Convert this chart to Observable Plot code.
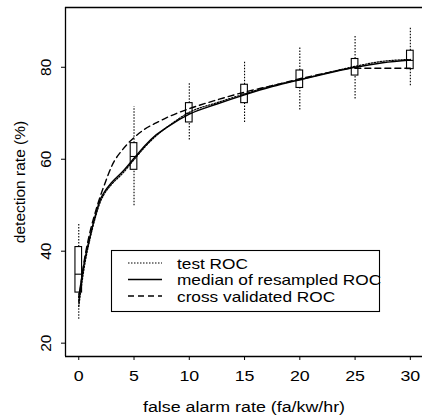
<!DOCTYPE html>
<html><head><meta charset="utf-8">
<script src="https://cdn.jsdelivr.net/npm/d3@7"></script>
<script src="https://cdn.jsdelivr.net/npm/@observablehq/plot@0.6"></script>
<style>html,body{margin:0;padding:0;background:#fff;overflow:hidden}</style>
</head><body><div id="chart"></div>
<script>
const fa        = [0, 0.5, 1, 1.5, 2, 2.3, 3, 4, 5, 6, 7, 8, 10, 12.5, 15, 17.5, 20, 22.5, 25, 27.5, 30];
const testROC   = [28, 36.5, 42.5, 47.3, 51, 52.4, 54.6, 57, 59.9, 62.7, 65.1, 67, 70.2, 72.3, 74.2, 76, 77.3, 78.8, 80.2, 81.3, 81.7];
const medianROC = [30, 37.5, 43, 47.8, 51.5, 52.8, 55, 57.4, 60.2, 63, 65.3, 67, 69.8, 72, 74, 75.8, 77.3, 78.7, 80, 81, 81.6];
const cvROC     = [29, 38, 44, 48.5, 52.3, 54.3, 58.6, 62.2, 64.7, 66.6, 67.9, 69.1, 71, 72.9, 74.6, 76, 77.5, 78.8, 79.8, 79.8, 79.8];

const boxFa     = [0, 5, 10, 15, 20, 25, 30];
const whiskerLo = [25.2, 49.9, 64.2, 68, 70.7, 73.1, 76];
const q1        = [31, 57.7, 68, 72.2, 75.5, 78.2, 79.6];
const med       = [35, 60.6, 70, 74.2, 77.3, 80, 81.5];
const q3        = [40.9, 63.5, 72.2, 76.2, 79.3, 81.8, 83.6];
const whiskerHi = [46, 71.4, 76.7, 81.3, 84.3, 86.9, 88.5];

const xTicks = [0, 5, 10, 15, 20, 25, 30];
const yTicks = [20, 40, 60, 80];
const xDomain = [-1.2, 31.1];
const yDomain = [17.1, 93];

const seriesNames = ["test ROC", "median of resampled ROC", "cross validated ROC"];
const seriesVals = [testROC, medianROC, cvROC];
const dashes = ["1.5,1.5", null, "6,4"];
const widths = [1.2, 1.5, 1.4];

const lines = seriesVals.map(v => fa.map((f, i) => ({fa: f, v: v[i]})));
const boxes = boxFa.map((f, i) => ({fa: f, lo: whiskerLo[i], q1: q1[i], med: med[i], q3: q3[i], hi: whiskerHi[i]}));
const boxHalf = 0.3;

const font = "'Liberation Sans', Arial, Helvetica, sans-serif";
const fs = 15.5;
const stretch = 1.15;

const chart = Plot.plot({
  width: 422, height: 417,
  marginLeft: 65, marginTop: 7, marginBottom: 61, marginRight: 0,
  style: {fontFamily: font, fontSize: fs + "px", color: "#000", background: "#fff"},
  x: {domain: xDomain, ticks: xTicks},
  y: {domain: yDomain, ticks: yTicks},
  marks: [
    Plot.ruleX(boxes, {x: "fa", y1: "lo", y2: "q1", stroke: "#000", strokeWidth: 1.1, strokeDasharray: "1.5,1.5"}),
    Plot.ruleX(boxes, {x: "fa", y1: "q3", y2: "hi", stroke: "#000", strokeWidth: 1.1, strokeDasharray: "1.5,1.5"}),
    Plot.rect(boxes, {x1: d => d.fa - boxHalf, x2: d => d.fa + boxHalf, y1: "q1", y2: "q3", fill: "none", stroke: "#000", strokeWidth: 1.1}),
    Plot.ruleY(boxes, {y: "med", x1: d => d.fa - boxHalf, x2: d => d.fa + boxHalf, stroke: "#000", strokeWidth: 1.1}),
    ...lines.map((ld, k) => Plot.line(ld, {x: "fa", y: "v", curve: "monotone-x", stroke: "#000", strokeWidth: widths[k], strokeDasharray: dashes[k]})),
    Plot.ruleX([xDomain[0]], {stroke: "#000", strokeWidth: 1.3}),
    Plot.ruleY(yDomain, {stroke: "#000", strokeWidth: 1.3}),
    Plot.axisX({ticks: xTicks, tickSize: 4, tickPadding: 9, fontSize: fs, label: "false alarm rate (fa/kw/hr)", labelAnchor: "center", labelOffset: 55, labelArrow: "none"}),
    Plot.axisY({ticks: yTicks, tickSize: 4, tickFormat: () => "", fontSize: fs, label: "detection rate (%)", labelAnchor: "center", labelOffset: 52, labelArrow: "none"}),
    Plot.text(yTicks, {y: d => d, text: d => String(d), frameAnchor: "left", dx: -19, rotate: -90, textAnchor: "middle", lineAnchor: "middle", fontSize: fs})
  ]
});
document.getElementById("chart").appendChild(chart);

// legend box drawn inside the svg
const svg = d3.select(chart);
const lg = svg.append("g").attr("class", "legend").attr("font-family", font).attr("font-size", 15).attr("text-anchor", "start");
lg.append("rect").attr("x", 111.5).attr("y", 250.5).attr("width", 268).attr("height", 61)
  .attr("fill", "#fff").attr("stroke", "#000").attr("stroke-width", 1.1);
seriesNames.forEach((name, k) => {
  const cy = 263 + k * 16.5;
  lg.append("line").attr("x1", 128).attr("x2", 162).attr("y1", cy).attr("y2", cy)
    .attr("stroke", "#000").attr("stroke-width", widths[k]).attr("stroke-dasharray", dashes[k]);
  lg.append("text").attr("x", 177).attr("y", cy + 5.5).attr("fill", "#000").text(name);
});

// the reference's lettering is horizontally wide: stretch horizontal texts
svg.selectAll('g[aria-label="x-axis tick label"] text, g[aria-label="x-axis label"] text, g.legend text')
  .each(function () {
    const L = this.getComputedTextLength();
    this.setAttribute("textLength", (L * stretch).toFixed(1));
    this.setAttribute("lengthAdjust", "spacingAndGlyphs");
  });
</script></body></html>
